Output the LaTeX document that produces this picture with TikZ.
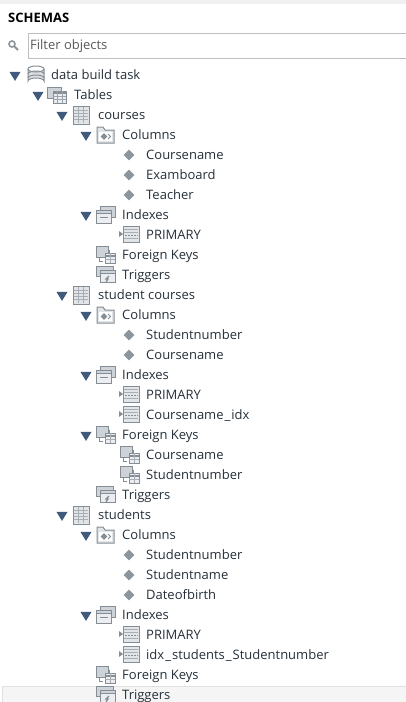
\documentclass[tikz,border=0pt]{standalone}
\usepackage{fontspec}
\setmainfont{Open Sans}
\usepackage{tikz}
\usetikzlibrary{positioning,arrows.meta,shapes.geometric}
\definecolor{treeblue}{HTML}{3F5A7A}
\definecolor{icongray}{HTML}{858D95}
\definecolor{iconfill}{HTML}{CDD3D9}
\definecolor{textdark}{HTML}{26303A}
\definecolor{diamondgray}{HTML}{8C949C}
\newcommand{\wideus}{\kern1pt\_\kern1pt}
\tikzset{
	rowtext/.style={anchor=base west,yshift=-4.5pt,inner sep=0pt,text=textdark,font=\fontsize{13}{13}\selectfont},
	opener/.style={draw=none,fill=treeblue,isosceles triangle,isosceles triangle apex angle=70,isosceles triangle stretches,shape border rotate=-90,minimum width=11pt,minimum height=9pt,inner sep=0pt},
	attrmark/.style={draw=none,fill=diamondgray,diamond,minimum size=11pt,inner sep=0pt},
	winline/.style={icongray,line width=1pt},
	pics/gridicon/.style={code={
		\draw[winline,fill=iconfill!60] (-8,-9) rectangle (8,9);
		\foreach \r in {-5,-2,1,4} {\draw[icongray!70] (-7,\r)--(7,\r);}
		\draw[icongray!70] (-3,-8)--(-3,8) (2,-8)--(2,8);
	}},
	pics/foldericon/.style={code={
		\draw[winline,fill=iconfill!60] (-8,-8)--(-2,-8)--(0,-5)--(9,-5)--(9,8)--(-8,8)--cycle;
		\fill[white] (-6,-3) rectangle (7,6);
		\node[draw=none,fill=icongray,diamond,minimum size=7pt,inner sep=0pt] at (-1,1.5) {};
		\draw[icongray,line width=1pt] (3,-1)--(5.5,1.5)--(3,4);
	}},
	pics/stackicon/.style={code={
		\draw[winline,fill=iconfill] (-5,-9) rectangle (10,2);
		\draw[winline,fill=iconfill!40] (-9,-5) rectangle (6,8);
		\draw[winline,fill=iconfill] (-9,-5) rectangle (6,-2);
		\draw[icongray] (-5,2)--(3,2);
	}},
	pics/tablesicon/.style={code={
		\draw[winline,fill=iconfill] (-9,-8) rectangle (5,3);
		\draw[winline,fill=iconfill!40] (-3,-4) rectangle (10,8);
		\draw[icongray,line width=1.4pt] (-3,-2)--(10,-2);
		\draw[icongray!80] (-3,1)--(10,1) (-3,4)--(10,4) (1,-4)--(1,8) (6,-4)--(6,8);
	}},
	pics/triggericon/.style={code={
		\draw[winline,fill=iconfill] (-9,-9) rectangle (8,1);
		\draw[winline,fill=iconfill!40] (-5,-5) rectangle (10,7);
		\draw[winline,fill=iconfill] (-5,-5) rectangle (10,-2);
		\draw[icongray,line width=1.2pt] (4,1)--(1,4)--(3,4)--(1,7);
	}},
	pics/keyicon/.style={code={
		\draw[winline,fill=iconfill] (-9,-9) rectangle (3,2);
		\draw[winline,fill=iconfill!40] (0,-2) rectangle (10,8);
		\draw[icongray,line width=1.4pt] (0,1)--(10,1);
		\draw[icongray!70] (0,4)--(10,4) (5,-2)--(5,8);
		\draw[winline] (-6,2)--(-6,6)--(-2,6);
		\draw[winline] (4,-5)--(4,-2);
	}},
	pics/indexicon/.style={code={
		\draw[winline,fill=iconfill!60] (-6,-9) rectangle (10,7);
		\foreach \r in {-6,-3,3} {\draw[icongray!70] (-5,\r)--(9,\r);}
		\draw[icongray,dash pattern=on 2pt off 1pt] (-4,0)--(9,0);
		\fill[icongray] (-10,-4)--(-6,-1)--(-10,2)--cycle;
	}},
	pics/dbicon/.style={code={
		\draw[winline,fill=iconfill!70] (-8,-6)--(-8,6) arc[start angle=180,end angle=360,x radius=8,y radius=3]--(8,-6);
		\draw[winline,fill=white] (0,-6) ellipse[x radius=8,y radius=3];
		\draw[winline] (-8,-1) arc[start angle=180,end angle=360,x radius=8,y radius=3];
		\draw[winline] (-8,3) arc[start angle=180,end angle=360,x radius=8,y radius=3];
	}},
}
\begin{document}
\begin{tikzpicture}[x=1pt,y=-1pt]
	\useasboundingbox (0,0) rectangle (406,702);
	\fill[white] (0,0) rectangle (406,702);
	\fill[black!6] (0,0) rectangle (406,4);
	
	\node[rowtext,font=\fontsize{13}{13}\selectfont\bfseries,text=black] (schemas) at (8,18) {SCHEMAS};
	\draw[black!25,fill=white] (28,33) rectangle (407,58);
	\node[rowtext,text=black!65] (filter) at (30,45) {Filter objects};
	\draw[diamondgray,line width=1.6pt] (12,44) circle (3);
	\draw[diamondgray,line width=2pt] (14.5,46.5)--(18,50);
	\draw[black!12,fill=black!4] (2,686) rectangle (407,703);
	
	% tree: y / name / text
	\pic at (36,75) {dbicon};
	\node[rowtext] (db) at (51,75) {data build task};
	\pic at (56,95) {tablesicon};
	\node[rowtext] (tables) at (74,95) {Tables};
	
	\foreach \y/\n/\t in {115/a/courses,295/b/student courses,515/c/students} {
		\pic at (81,\y) {gridicon};
		\node[rowtext] (tbl\n) at (98,\y) {\t};
	}
	\foreach \y/\n in {135/a,315/b,535/c} {
		\pic at (105,\y) {foldericon};
		\node[rowtext] (col\n) at (122,\y) {Columns};
	}
	\foreach \y/\n in {215/a,375/b,615/c} {
		\pic at (105,\y) {stackicon};
		\node[rowtext] (idx\n) at (122,\y) {Indexes};
	}
	\foreach \y/\n in {255/a,435/b,675/c} {
		\pic at (105,\y) {keyicon};
		\node[rowtext] (fk\n) at (122,\y) {Foreign Keys};
	}
	\foreach \y/\n in {275/a,495/b,695/c} {
		\pic at (105,\y) {triggericon};
		\node[rowtext] (trg\n) at (122,\y) {Triggers};
	}
	
	% columns
	\foreach \y/\n/\t in {155/a/Coursename,175/b/Examboard,195/c/Teacher,335/d/Studentnumber,355/e/Coursename,555/f/Studentnumber,575/g/Studentname,595/h/Dateofbirth} {
		\node[attrmark] (mark\n) at (129,\y) {};
		\node[rowtext] (attr\n) at (146,\y) {\t};
	}
	
	% indexes
	\foreach \y/\n/\t in {235/a/PRIMARY,395/b/PRIMARY,415/c/Coursename\wideus idx,635/d/PRIMARY,655/e/idx\wideus students\wideus Studentnumber} {
		\pic at (129,\y) {indexicon};
		\node[rowtext] (key\n) at (146,\y) {\t};
	}
	
	% foreign keys
	\foreach \y/\n/\t in {455/a/Coursename,475/b/Studentnumber} {
		\pic at (129,\y) {keyicon};
		\node[rowtext] (ref\n) at (146,\y) {\t};
	}
	
	% openers
	\foreach \x/\y/\n in {15/75/a,38/95/b,62/115/c,86/135/d,86/215/e,62/295/f,86/315/g,86/375/h,86/435/i,62/515/j,86/535/k,86/615/l} {
		\node[opener] (open\n) at (\x,\y) {};
	}
\end{tikzpicture}
\end{document}
